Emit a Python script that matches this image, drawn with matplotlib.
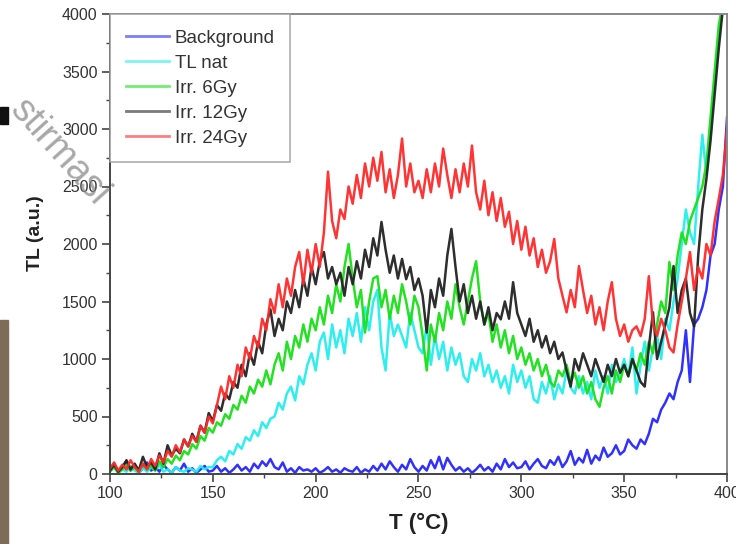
import numpy as np
import matplotlib
matplotlib.use("Agg")
import matplotlib.pyplot as plt
from matplotlib.ticker import MultipleLocator
import matplotlib.patches as mpatches

plt.rcParams['font.family'] = ['Liberation Sans', 'DejaVu Sans']

temperature = list(range(100, 401, 2))

background = [
    40, 90, 20, 60, 110, 30, 70, 10, 50, 100, 30, 60, 20, 80, 40, 10, 60, 30, 90, 20, 50, 10, 40, 70, 20,
    30, 70, 20, 50, 10, 40, 80, 30, 60, 20, 90, 50, 110, 70, 130, 60, 40, 100, 20, 50, 10, 60, 30, 40, 20,
    50, 10, 30, 60, 20, 40, 10, 50, 30, 20, 60, 10, 40, 20, 70, 30, 90, 40, 110, 60, 20, 80, 40, 130, 60,
    20, 70, 30, 120, 50, 150, 40, 140, 80, 30, 60, 20, 50, 10, 40, 80, 30, 60, 20, 90, 40, 130, 60, 100, 50,
    60, 110, 40, 90, 130, 70, 50, 120, 80, 150, 60, 110, 200, 80, 140, 100, 210, 90, 160, 120, 230, 150, 180, 250, 170,
    200, 300, 250, 220, 300, 260, 350, 480, 450, 560, 620, 700, 650, 800, 900, 1250, 800, 1300, 1350, 1450, 1600, 1900, 2000, 2300, 2500,
    3100]

tl_nat = [
    30, 60, 10, 40, 20, 70, 30, 10, 50, 20, 60, 30, 80, 20, 40, 10, 60, 30, 20, 50, 40, 20, 70, 40, 60,
    60, 120, 150, 110, 200, 170, 260, 220, 320, 290, 380, 330, 450, 400, 480, 500, 620, 560, 700, 760, 640, 850, 780, 950, 1050,
    900, 1150, 1230, 1000, 1300, 1100, 1250, 1050, 1350, 1200, 1400, 1150, 1450, 1250, 1500, 1600, 1100, 900, 1400, 1200, 1300, 1200, 1100, 1400, 1250,
    1100, 1050, 1300, 950, 1200, 1000, 1150, 900, 1100, 950, 1050, 850, 800, 1000, 900, 1050, 850, 950, 800, 900, 750, 850, 700, 950, 800,
    900, 750, 850, 650, 620, 800, 700, 850, 650, 780, 700, 900, 750, 700, 850, 700, 800, 650, 900, 750, 850, 700, 950, 800, 880,
    1000, 850, 1100, 700, 950, 1150, 900, 1100, 1200, 1000, 1350, 1250, 1500, 1700, 2000, 2300, 2100, 2000, 2500, 2950, 2600, 3000, 3400, 3800, 4100,
    4300]

irr_6gy = [
    20, 60, 10, 40, 80, 30, 60, 20, 90, 40, 70, 30, 110, 60, 130, 90, 160, 120, 200, 170, 260, 220, 330, 290, 400,
    360, 450, 420, 520, 480, 600, 560, 680, 620, 760, 700, 820, 760, 900, 780, 950, 1050, 900, 1150, 1000, 1200, 1100, 1300, 1150, 1350,
    1250, 1450, 1300, 1550, 1400, 1650, 1500, 1800, 2000, 1700, 1450, 1600, 1230, 1500, 1700, 1720, 1450, 1600, 1350, 1550, 1400, 1650, 1500, 1300, 1550,
    1450, 1200, 900, 1300, 1150, 1400, 1250, 1500, 1350, 1650, 1450, 1300, 1500, 1700, 1850, 1500, 1300, 1400, 1150, 1300, 1100, 1250, 1050, 1200, 1000,
    1100, 950, 1050, 900, 1000, 850, 950, 800, 760, 900, 850, 950, 800, 880, 750, 850, 700, 800, 650, 585, 750, 850, 700, 900, 800,
    950, 850, 1000, 900, 1050, 950, 1150, 1050, 1300, 1500, 1400, 1843, 1600, 1900, 2100, 2000, 2200, 2300, 2400, 2500, 2700, 3100, 3500, 3900, 4100,
    4300]

irr_12gy = [
    30, 80, 20, 60, 120, 40, 90, 30, 150, 60, 100, 40, 180, 90, 250, 160, 220, 180, 300, 240, 350, 280, 420, 360, 530,
    460, 600, 550, 700, 650, 800, 750, 950, 850, 1050, 950, 1150, 1050, 1300, 1432, 1200, 1350, 1250, 1500, 1400, 1600, 1450, 1700, 1550, 1800,
    1650, 1850, 1930, 1700, 1800, 1650, 1750, 1550, 1800, 1650, 1850, 1700, 1950, 1800, 2050, 1900, 2192, 1950, 1750, 1900, 1700, 1870, 1694, 1800, 1600,
    1700, 1550, 1230, 1600, 1450, 1700, 1550, 1900, 2131, 1800, 1500, 1650, 1400, 1550, 1350, 1500, 1300, 1450, 1250, 1400, 1345, 1500, 1350, 1668, 1400,
    1300, 1200, 1350, 1150, 1250, 1100, 1200, 1050, 1150, 1000, 1057, 900, 760, 1000, 900, 1050, 950, 850, 1000, 900, 800, 950, 850, 1000, 880,
    950, 850, 1000, 900, 800, 760, 1100, 1406, 1000, 1150, 1300, 1450, 1808, 1400, 1600, 1700, 1400, 1284, 1900, 2300, 2568, 2900, 3300, 3700, 4050,
    4200]

irr_24gy = [
    50, 100, 30, 80, 40, 120, 60, 20, 90, 40, 130, 70, 160, 100, 200, 150, 250, 190, 300, 240, 330, 280, 420, 360, 500,
    440, 600, 760, 650, 850, 750, 950, 850, 1100, 1000, 1200, 1100, 1350, 1250, 1520, 1400, 1650, 1450, 1700, 1550, 1800, 1930, 1650, 1950, 1750,
    2000, 1800, 2100, 2629, 2200, 2050, 2300, 2218, 2500, 2350, 2600, 2400, 2700, 2500, 2750, 2550, 2800, 2450, 2650, 2400, 2600, 2917, 2500, 2700, 2450,
    2550, 2400, 2650, 2450, 2700, 2500, 2830, 2600, 2400, 2650, 2450, 2700, 2500, 2856, 2450, 2300, 2550, 2250, 2450, 2200, 2400, 2150, 2280, 2000, 2200,
    1950, 2150, 1900, 2050, 1800, 1950, 1750, 1850, 2044, 1700, 1550, 1406, 1600, 1450, 1808, 1600, 1400, 1550, 1300, 1450, 1250, 1500, 1668, 1350, 1200,
    1300, 1150, 1250, 1284, 1200, 1350, 1720, 1300, 1200, 1350, 1250, 1100, 1057, 1300, 1500, 1700, 1930, 1600, 1800, 1700, 2000, 1900, 2200, 2393, 2600,
    3000]

series_labels = ["Background", "TL nat", "Irr. 6Gy", "Irr. 12Gy", "Irr. 24Gy"]
series_colors = ["#2626ff", "#22eeee", "#18e018", "#222222", "#ff2a2a"]
series_values = [background, tl_nat, irr_6gy, irr_12gy, irr_24gy]

x_ticks = [100, 150, 200, 250, 300, 350, 400]
y_ticks = [0, 500, 1000, 1500, 2000, 2500, 3000, 3500, 4000]

fig = plt.figure(figsize=(7.36, 5.44), dpi=100)
ax = fig.add_axes([110/736, 1 - 474/544, (727-110)/736, (474-14)/544])

for vals, lab, col in zip(series_values, series_labels, series_colors):
    ax.plot(temperature, vals, color=col, lw=1.8, label=lab, alpha=0.95)

ax.set_xlim(100, 400)
ax.set_ylim(0, 4000)
ax.set_xticks(x_ticks)
ax.set_yticks(y_ticks)
ax.xaxis.set_minor_locator(MultipleLocator(25))
ax.yaxis.set_minor_locator(MultipleLocator(250))
ax.tick_params(which='major', direction='out', length=6, width=1.2, color='#444444',
               labelsize=11.5, labelcolor='#333333', top=False, right=False, pad=3)
ax.tick_params(which='minor', direction='out', length=3, width=1.0, color='#444444', top=False, right=False)
for s in ['left', 'bottom']:
    ax.spines[s].set_color('#444444')
    ax.spines[s].set_linewidth(1.4)
for s in ['top', 'right']:
    ax.spines[s].set_color('#888888')
    ax.spines[s].set_linewidth(1.4)

ax.set_xlabel("T (°C)", fontsize=16, fontweight='bold', color='#222222', labelpad=8)
ax.set_ylabel("TL (a.u.)", fontsize=14, fontweight='bold', color='#222222', labelpad=10)
ax.yaxis.set_label_coords(-0.107, 0.524)

leg = ax.legend(loc='upper left', borderaxespad=0, fontsize=13.5, frameon=True, fancybox=False,
                edgecolor='#999999', borderpad=0.83, labelspacing=0.42, handlelength=2.3,
                handletextpad=0.32)
leg.get_frame().set_linewidth(1.2)
for line in leg.get_lines():
    line.set_linewidth(2.0)
    line.set_alpha(0.6)
for t in leg.get_texts():
    t.set_color('#333333')

# Page artifacts around the cropped figure
fig.patches.append(mpatches.Rectangle((0, 1 - 124/544), 8/736, 17/544, transform=fig.transFigure,
                                      color='#111111', zorder=5))
fig.patches.append(mpatches.Rectangle((0, 0), 8/736, (544-320)/544, transform=fig.transFigure,
                                      color='#7d6d58', zorder=5))
fig.text(60/736, 1 - 152/544, "stirmasi", rotation=-48, fontsize=27, color='#8a8a8a',
         ha='center', va='center', alpha=0.75, zorder=10)

fig.savefig("out.png", dpi=100)
